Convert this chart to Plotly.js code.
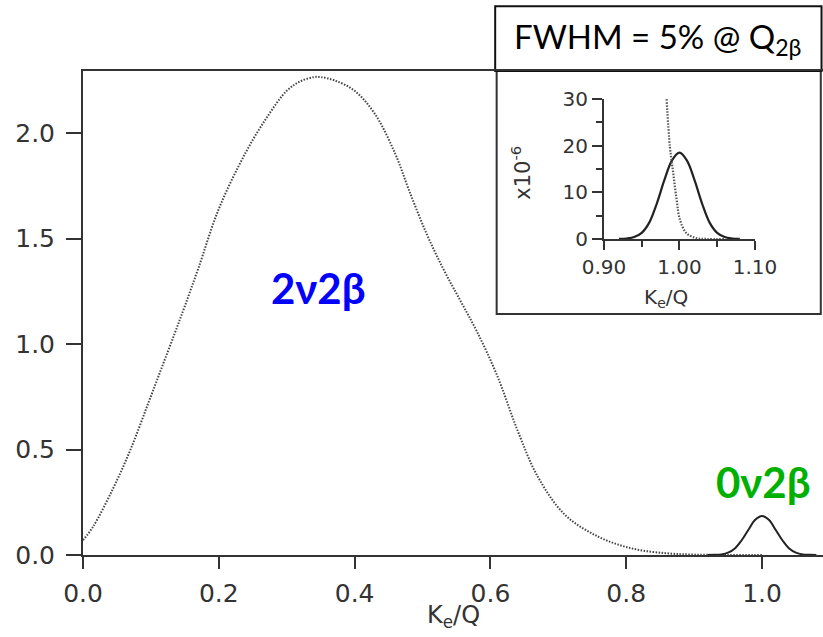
<!DOCTYPE html>
<html>
<head>
<meta charset="utf-8">
<script src="https://cdn.plot.ly/plotly-3.0.1.min.js"></script>
<style>html,body{margin:0;padding:0;background:#fff;}#chart{width:823px;height:637px;}</style>
</head>
<body>
<div id="chart"></div>
<script>
// Main panel: 2ν2β summed-energy spectrum (dotted)
const x2nu = [0, 0.015, 0.045, 0.07, 0.095, 0.115, 0.135, 0.15, 0.17, 0.2, 0.24, 0.27, 0.3, 0.32, 0.34, 0.35, 0.37, 0.4, 0.43, 0.46, 0.48, 0.505, 0.53, 0.555, 0.58, 0.61, 0.64, 0.67, 0.71, 0.76, 0.81, 0.86, 0.9, 0.95, 1.0];
const y2nu = [0.07, 0.135, 0.32, 0.5, 0.71, 0.88, 1.05, 1.18, 1.36, 1.64, 1.91, 2.07, 2.2, 2.245, 2.265, 2.265, 2.25, 2.2, 2.09, 1.9, 1.73, 1.53, 1.36, 1.21, 1.06, 0.85, 0.59, 0.37, 0.19, 0.085, 0.03, 0.008, 0.002, 0, 0];
// Main panel: 0ν2β peak (solid)
const x0nu = [0.92, 0.93, 0.94, 0.95, 0.96, 0.97, 0.98, 0.99, 1.00, 1.01, 1.02, 1.03, 1.04, 1.05, 1.06, 1.07, 1.08];
const y0nu = [0, 0.001, 0.003, 0.011, 0.031, 0.07, 0.12, 0.167, 0.185, 0.167, 0.12, 0.07, 0.031, 0.011, 0.003, 0.001, 0];
// Inset (×10^-6): 0ν2β peak (solid)
const xInPeak = [0.92, 0.93, 0.94, 0.95, 0.96, 0.97, 0.98, 0.99, 1.00, 1.01, 1.02, 1.03, 1.04, 1.05, 1.06, 1.07, 1.08];
const yInPeak = [0, 0.1, 0.4, 1.3, 3.5, 7.6, 12.6, 16.8, 18.5, 16.8, 12.6, 7.6, 3.5, 1.3, 0.4, 0.1, 0];
// Inset (×10^-6): 2ν2β tail (dotted)
const xInTail = [0.983, 0.9874, 0.9918, 0.9963, 1.0007, 1.0095, 1.023, 1.036, 1.06];
const yInTail = [30, 19.7, 14.1, 8.4, 4.1, 1.2, 0.15, 0, 0];
// Tick values / labels
const mainXTicks = [0, 0.2, 0.4, 0.6, 0.8, 1.0];
const mainYTicks = [0, 0.5, 1.0, 1.5, 2.0];
const inXTicks = [0.90, 1.00, 1.10];
const inYTicks = [0, 10, 20, 30];

const axisColor = '#333';
const tickFont = {family: 'DejaVu Sans', size: 25, color: '#333'};
const inTickFont = {family: 'DejaVu Sans', size: 20, color: '#333'};

const traces = [
  {x: x2nu, y: y2nu, type: 'scatter', mode: 'lines', line: {color: '#444', width: 2, dash: '1.5px,1.5px', shape: 'spline', smoothing: 1}, xaxis: 'x', yaxis: 'y', hoverinfo: 'skip'},
  {x: x0nu, y: y0nu, type: 'scatter', mode: 'lines', line: {color: '#222', width: 2, shape: 'spline'}, xaxis: 'x', yaxis: 'y', hoverinfo: 'skip'},
  {x: xInPeak, y: yInPeak, type: 'scatter', mode: 'lines', line: {color: '#222', width: 2.2, shape: 'spline'}, xaxis: 'x2', yaxis: 'y2', hoverinfo: 'skip'},
  {x: xInTail, y: yInTail, type: 'scatter', mode: 'lines', line: {color: '#555', width: 2.2, dash: '1.5px,1.5px', shape: 'spline'}, xaxis: 'x2', yaxis: 'y2', hoverinfo: 'skip'}
];

const layout = {
  width: 823, height: 637,
  margin: {l: 83, r: 0, t: 71, b: 82},
  paper_bgcolor: '#fff', plot_bgcolor: 'rgba(0,0,0,0)',
  showlegend: false,
  xaxis: {
    range: [0, 1.0898], tickvals: mainXTicks, tickformat: '.1f',
    ticks: 'outside', ticklen: 12, tickwidth: 2, tickcolor: axisColor,
    showline: true, linecolor: axisColor, linewidth: 2, mirror: true,
    showgrid: false, zeroline: false, tickfont: tickFont, ticklabelstandoff: 3
  },
  yaxis: {
    range: [0, 2.294], tickvals: mainYTicks, tickformat: '.1f',
    ticks: 'outside', ticklen: 15, tickwidth: 2, tickcolor: axisColor,
    showline: true, linecolor: axisColor, linewidth: 2, mirror: false,
    showgrid: false, zeroline: false, tickfont: tickFont, ticklabelstandoff: 6
  },
  xaxis2: {
    domain: [0.704, 0.908], anchor: 'y2', range: [0.90, 1.10], tickvals: inXTicks, tickformat: '.2f',
    ticks: 'outside', ticklen: 9, tickwidth: 2, tickcolor: axisColor,
    minor: {tickvals: [0.95, 1.05], ticks: 'outside', ticklen: 6, tickwidth: 2, tickcolor: axisColor, showgrid: false},
    showline: true, linecolor: axisColor, linewidth: 2, showgrid: false, zeroline: false, tickfont: inTickFont
  },
  yaxis2: {
    domain: [0.653, 0.942], anchor: 'x2', range: [0, 30], tickvals: inYTicks,
    ticks: 'outside', ticklen: 10, tickwidth: 2, tickcolor: axisColor,
    minor: {tickvals: [5, 15, 25], ticks: 'outside', ticklen: 6, tickwidth: 2, tickcolor: axisColor, showgrid: false},
    showline: true, linecolor: axisColor, linewidth: 2, showgrid: false, zeroline: false, tickfont: inTickFont
  },
  shapes: [
    {type: 'rect', xref: 'paper', yref: 'paper', x0: 0.559, x1: 0.997, y0: 0.498, y1: 1.0, line: {color: '#333', width: 2}, fillcolor: '#fff', layer: 'below'},
    {type: 'rect', xref: 'paper', yref: 'paper', x0: 0.557, x1: 0.998, y0: 1.0, y1: 1.134, line: {color: '#111', width: 2}, fillcolor: '#fff', layer: 'below'}
  ],
  annotations: [
    {xref: 'paper', yref: 'paper', x: 0.5, y: -0.128, yanchor: 'middle', text: 'K<sub>e</sub>/Q', showarrow: false, font: {family: 'DejaVu Sans', size: 24, color: '#333'}},
    {xref: 'paper', yref: 'paper', x: 0.82, y: 0.53, yanchor: 'middle', text: 'K<sub>e</sub>/Q', showarrow: false, font: {family: 'DejaVu Sans', size: 20, color: '#333'}},
    {xref: 'paper', yref: 'paper', x: 0.592, y: 0.79, xanchor: 'center', yanchor: 'middle', textangle: -90, text: 'x10<sup>-6</sup>', showarrow: false, font: {family: 'DejaVu Sans', size: 21, color: '#333'}},
    {xref: 'paper', yref: 'paper', x: 0.777, y: 1.067, xanchor: 'center', yanchor: 'middle', text: 'FWHM = 5% @ Q<sub>2β</sub>', showarrow: false, font: {family: 'Lato', size: 33, color: '#000'}},
    {xref: 'paper', yref: 'paper', x: 0.318, y: 0.552, xanchor: 'center', yanchor: 'middle', text: '<b>2ν2β</b>', showarrow: false, font: {family: 'Lato', size: 42, color: '#0000ff'}},
    {xref: 'paper', yref: 'paper', x: 0.919, y: 0.15, xanchor: 'center', yanchor: 'middle', text: '<b>0ν2β</b>', showarrow: false, font: {family: 'Lato', size: 42, color: '#00b000'}}
  ]
};

Plotly.newPlot('chart', traces, layout, {staticPlot: true, displayModeBar: false});
</script>
</body>
</html>
